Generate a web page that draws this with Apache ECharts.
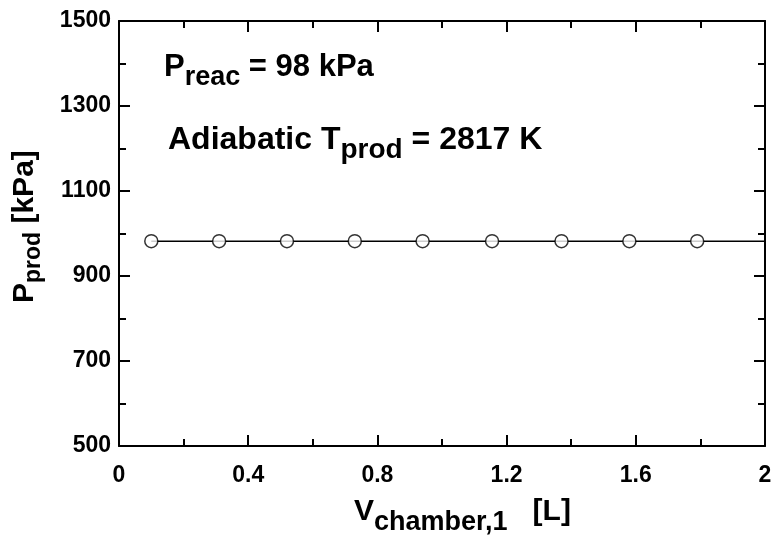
<!DOCTYPE html>
<html><head><meta charset="utf-8">
<script src="https://cdn.jsdelivr.net/npm/echarts@6/dist/echarts.min.js"></script>
<style>html,body{margin:0;padding:0;background:#fff;overflow:hidden}#c{width:773px;height:537px}</style>
</head><body><div id="c"></div>
<script>
const vChamber = [0.1, 0.31, 0.52, 0.73, 0.94, 1.155, 1.37, 1.58, 1.79];
const pProd = [982, 982, 982, 982, 982, 982, 982, 982, 982];
const fitX = [0.1, 2.0];
const fitY = [982, 982];
const xTicks = [0, 0.4, 0.8, 1.2, 1.6, 2];
const yTicks = [500, 700, 900, 1100, 1300, 1500];

const FONT = '"Liberation Sans", Arial, sans-serif';
const chart = echarts.init(document.getElementById('c'));
const axisCommon = {
  axisLine: {show: true, onZero: false, lineStyle: {color: '#000', width: 2}},
  axisTick: {show: true, inside: true, length: 11, lineStyle: {color: '#000', width: 2}},
  minorTick: {show: true, splitNumber: 2, length: 7, lineStyle: {color: '#000', width: 2}},
  splitLine: {show: false},
  minorSplitLine: {show: false}
};
const mainStyle = (size, lh) => ({fontFamily: FONT, fontWeight: 'bold', fontSize: size, fill: '#000', color: '#000', verticalAlign: 'top', lineHeight: lh});
const subStyle = (size, lh, pad) => Object.assign(mainStyle(size, lh), {padding: [pad, 0, 0, 0]});
const richAnn = {m: mainStyle(31, 36), s: subStyle(27, 36, 12)};
const richAnn2 = {m: mainStyle(32, 36), s: subStyle(28, 36, 12)};
const richX = {m: mainStyle(30, 36), s: subStyle(27, 36, 12)};
const richY = {m: mainStyle(30, 36), s: subStyle(23, 36, 12)};

chart.setOption({
  animation: false,
  backgroundColor: '#fff',
  grid: {left: 119, right: 8, top: 21, bottom: 91, containLabel: false, outerBoundsMode: 'none'},
  xAxis: [
    Object.assign({
      type: 'value', min: xTicks[0], max: xTicks[xTicks.length-1], interval: 0.4,
      axisLabel: {color: '#000', fontFamily: FONT, fontWeight: 'bold', fontSize: 23, margin: 18,
        formatter: v => String(+v.toFixed(1))}
    }, axisCommon),
    Object.assign({
      type: 'value', position: 'top', min: 0, max: 2, interval: 0.4,
      axisLabel: {show: false}
    }, axisCommon)
  ],
  yAxis: [
    Object.assign({
      type: 'value', min: yTicks[0], max: yTicks[yTicks.length-1], interval: 200,
      axisLabel: {color: '#000', fontFamily: FONT, fontWeight: 'bold', fontSize: 23, margin: 8,
        formatter: v => String(v)}
    }, axisCommon),
    Object.assign({
      type: 'value', position: 'right', min: 500, max: 1500, interval: 200,
      axisLabel: {show: false}
    }, axisCommon)
  ],
  series: [
    {type: 'line', data: fitX.map((x, i) => [x, fitY[i]]), showSymbol: false, symbol: 'none',
     lineStyle: {color: '#000', width: 1.5}, z: 2},
    {type: 'scatter', data: vChamber.map((x, i) => [x, pProd[i]]), symbol: 'circle', symbolSize: 13,
     itemStyle: {color: '#fff', borderColor: '#000', borderWidth: 1.5}, z: 3}
  ],
  graphic: [
    {type: 'text', x: 164, y: 52, style: {text: '{m|P}{s|reac}{m| = 98 kPa}', rich: richAnn}},
    {type: 'text', x: 168, y: 124, style: {text: '{m|Adiabatic T}{s|prod}{m| = 2817 K}', rich: richAnn2}},
    {type: 'text', x: 354, y: 497, style: {text: '{m|V}{s|chamber,1}{m|   [L]}', rich: richX}},
    {type: 'text', x: 10, y: 303, rotation: Math.PI / 2, style: {text: '{m|P}{s|prod}{m| [kPa]}', rich: richY}}
  ]
});
</script></body></html>
